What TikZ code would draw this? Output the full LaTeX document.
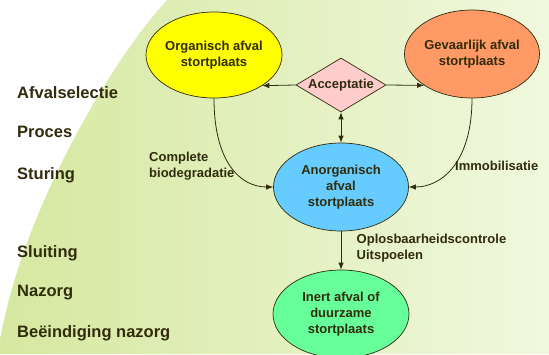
\documentclass[tikz,border=0pt]{standalone}
\usepackage{fontspec}
\setmainfont{Liberation Sans}
\usetikzlibrary{shapes.geometric,arrows.meta}
\definecolor{txt}{RGB}{48,44,12}
\definecolor{bgA}{RGB}{214,232,160}
\definecolor{bgB}{RGB}{226,240,190}
\definecolor{bgC}{RGB}{240,248,222}
\definecolor{cYellow}{RGB}{255,255,0}
\definecolor{cOrange}{RGB}{255,153,102}
\definecolor{cPink}{RGB}{255,204,204}
\definecolor{cBlue}{RGB}{102,204,255}
\definecolor{cGreen}{RGB}{102,255,153}
\tikzset{
  blob/.style={ellipse, draw=txt, line width=0.7pt, inner sep=-4pt, align=center,
    text=txt, font=\bfseries\fontsize{13}{16}\selectfont},
  gate/.style={diamond, draw=txt, line width=0.7pt, fill=cPink, inner sep=0pt,
    shape aspect=1.67, minimum width=90pt, minimum height=54pt, text=txt,
    font=\bfseries\fontsize{13}{16}\selectfont},
  conn/.style={draw=txt, line width=0.8pt, -{Latex[length=7pt,width=5.5pt]}},
  side/.style={anchor=base west, inner sep=0pt, text=txt, font=\bfseries\fontsize{16.5}{19}\selectfont},
  note/.style={anchor=base west, inner sep=0pt, text=txt, align=left, font=\bfseries\fontsize{13}{15.5}\selectfont},
}
\begin{document}
\begin{tikzpicture}[x=1pt,y=-1pt]
\useasboundingbox (0,0) rectangle (549,354);
\clip (0,0) rectangle (549,354);
\fill[white] (0,0) rectangle (549,354);
\shade[left color=bgA, middle color=bgB, right color=bgC]
  (167,0) .. controls (120,50) and (25,200) .. (0,340) -- (0,354) -- (549,354) -- (549,0) -- cycle;
% nodes
\node[blob, fill=cYellow, minimum width=136pt, minimum height=86pt] (org) at (214,55) {Organisch afval\\stortplaats};
\node[blob, fill=cOrange, minimum width=135pt, minimum height=88pt] (gev) at (472,54) {Gevaarlijk afval\\stortplaats};
\node[gate] (acc) at (341,85) {Acceptatie};
\node[blob, fill=cBlue, minimum width=135pt, minimum height=88pt] (ano) at (341,187) {Anorganisch\\afval\\stortplaats};
\node[blob, fill=cGreen, minimum width=136pt, minimum height=88pt] (ine) at (341,314) {Inert afval of\\duurzame\\stortplaats};
% connectors
\draw[conn] (acc.west) -- (org.south east);
\draw[conn] (acc.east) -- (gev.south west);
\draw[conn, {Latex[length=7pt,width=5.5pt]}-{Latex[length=7pt,width=5.5pt]}] (acc.south) -- (ano.north);
\draw[conn] (org.south) .. controls +(0,65) and +(-32,0) .. (ano.west);
\draw[conn] (gev.south) .. controls +(0,65) and +(32,0) .. (ano.east);
\draw[conn] (ano.south) -- (ine.north);
% labels
\node[note] (lc) at (149,177) {Complete\\biodegradatie};
\node[note] (li) at (455,170) {Immobilisatie};
\node[note] (lo) at (356.5,259) {Oplosbaarheidscontrole\\Uitspoelen};
% side
\node[side] (s1) at (17,98.3) {Afvalselectie};
\node[side] (s2) at (17,137.7) {Proces};
\node[side] (s3) at (17,179) {Sturing};
\node[side] (s4) at (17,257) {Sluiting};
\node[side] (s5) at (17,296.5) {Nazorg};
\node[side] (s6) at (17,337.5) {Beëindiging nazorg};
\end{tikzpicture}
\end{document}
